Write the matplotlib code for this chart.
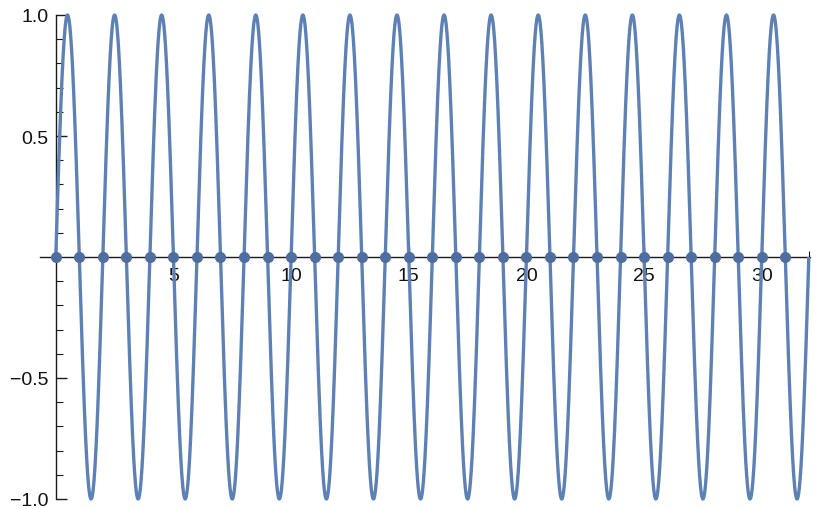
import numpy as np
import matplotlib
matplotlib.use("Agg")
import matplotlib.pyplot as plt
from matplotlib.ticker import FixedLocator

# Data: a sine wave of amplitude 1 and period 2 on [0, 32]
amplitude = 1.0
period = 2.0
x_start, x_end = 0.0, 32.0
zero_points = list(range(0, 32))          # marked zeros (dots) at 0..31
x_major_ticks = [5, 10, 15, 20, 25, 30]
x_tick_labels = ["5", "10", "15", "20", "25", "30"]
y_major_ticks = [-1.0, -0.5, 0.5, 1.0]
y_tick_labels = ["\u22121.0", "\u22120.5", "0.5", "1.0"]

plt.rcParams['font.family'] = ['Liberation Sans', 'DejaVu Sans']

fig = plt.figure(figsize=(8.22, 5.10), dpi=100)
ax = fig.add_axes([40/822, 10/510, 770/822, 484/510])

xs = np.linspace(x_start, x_end, 4000)
ys = amplitude * np.sin(2 * np.pi * xs / period)
line_color = '#5E81B5'
ax.plot(xs, ys, color=line_color, lw=2.4, zorder=3, clip_on=False,
        solid_capstyle='butt')
ax.plot(zero_points, [0]*len(zero_points), 'o', color='#4F6E9F',
        ms=8, mew=0, zorder=4, clip_on=False)

ax.set_xlim(-0.67, 32.05)
ax.set_ylim(-1.0, 1.0)

for s in ['top', 'right']:
    ax.spines[s].set_visible(False)
ax.spines['left'].set_position(('data', 0))
ax.spines['bottom'].set_position(('data', 0))
ax.spines['left'].set_bounds(-1.0, 1.0)
for s in ['left', 'bottom']:
    ax.spines[s].set_linewidth(1.0)
    ax.spines[s].set_color('#1a1a1a')
    ax.spines[s].set_zorder(2)

ax.xaxis.set_major_locator(FixedLocator(x_major_ticks))
ax.set_xticklabels(x_tick_labels)
ax.xaxis.set_minor_locator(FixedLocator([i for i in range(1, 33) if i % 5 != 0]))
ax.yaxis.set_major_locator(FixedLocator(y_major_ticks))
ax.set_yticklabels(y_tick_labels)
ax.yaxis.set_minor_locator(FixedLocator([round(v, 1) for v in np.arange(-0.9, 1.0, 0.1)
                                         if abs(round(v, 1)) not in (0.5, 0.0)]))

ax.tick_params(axis='x', which='major', direction='in', length=7, width=1,
               color='#1a1a1a', labelsize=14, pad=7)
ax.tick_params(axis='x', which='minor', direction='in', length=4, width=0.8,
               color='#1a1a1a')
ax.tick_params(axis='y', which='major', direction='in', length=8, width=1,
               color='#1a1a1a', labelsize=14, pad=5)
ax.tick_params(axis='y', which='minor', direction='in', length=5, width=0.8,
               color='#1a1a1a')
for lbl in ax.get_xticklabels() + ax.get_yticklabels():
    lbl.set_color('#111111')

ax.set_facecolor('white')
fig.patch.set_facecolor('white')
fig.savefig('out.png', dpi=100)
